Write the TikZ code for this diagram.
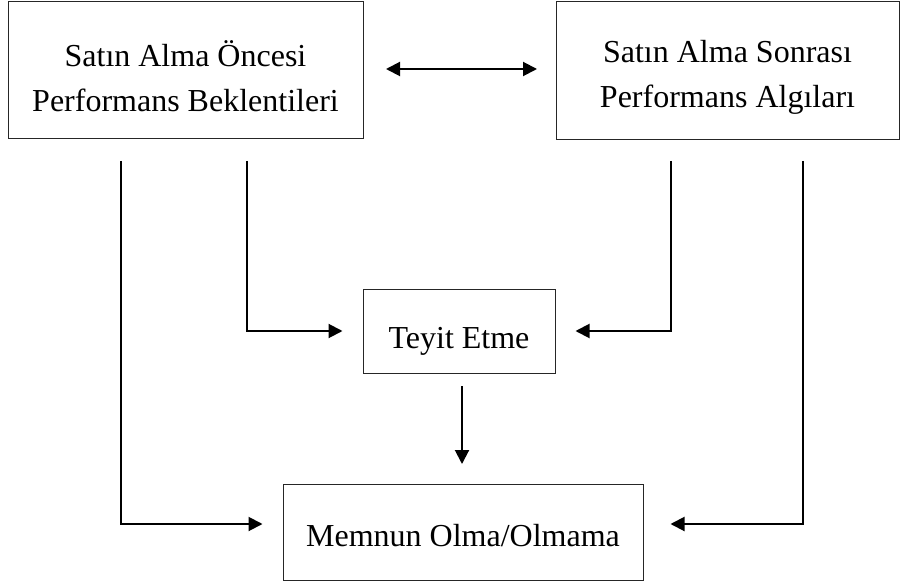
\documentclass[tikz,border=0pt]{standalone}
\usepackage{fontspec}
\setmainfont{Liberation Serif}
\usetikzlibrary{arrows.meta}
\begin{document}
\begin{tikzpicture}[x=1pt,y=-1pt,
  box/.style={draw=black!85,line width=1pt,inner sep=0pt},
  txt/.style={align=center,inner sep=0pt,font=\fontsize{32}{45}\selectfont},
  tip/.tip={Triangle[length=14pt,width=14pt]},
  link/.style={line width=2pt,-tip},
  both/.style={line width=2pt,tip-tip}]
\useasboundingbox (0,0) rectangle (901,585);

% boxes, with their texts set slightly below the centre
\node[box,minimum width=355pt,minimum height=137pt,
  label={[txt,yshift=-6pt]center:Satın Alma Öncesi\\Performans Beklentileri}]
  (pre) at (185.5,70.5) {};
\node[box,minimum width=343pt,minimum height=138pt,
  label={[txt,yshift=-6pt]center:Satın Alma Sonrası\\Performans Algıları}]
  (post) at (727.5,71) {};
\node[box,minimum width=192pt,minimum height=84pt,
  label={[txt,yshift=-10pt]center:Teyit Etme}]
  (conf) at (459,331) {};
\node[box,minimum width=360pt,minimum height=96pt,
  label={[txt,yshift=-4pt]center:Memnun Olma/Olmama}]
  (sat) at (463,532) {};

% free ends of the connectors
\coordinate (dA) at (386,69);
\coordinate (dB) at (537,69);
\coordinate (lo) at (121,161);
\coordinate (li) at (247,161);
\coordinate (ri) at (671,161);
\coordinate (ro) at (803,161);
\coordinate (mTop) at (462,386);
\coordinate (mBot) at (462,464);
\coordinate (cIn) at (0,331);
\coordinate (sIn) at (0,524);

% connectors
\draw[both] (dA) -- (dB);
\draw[link] (li) |- ([xshift=-20pt]conf.west |- cIn);
\draw[link] (ri) |- ([xshift=20pt]conf.east |- cIn);
\draw[link] (mTop) -- (mBot);
\draw[link] (lo) |- ([xshift=-20pt]sat.west |- sIn);
\draw[link] (ro) |- ([xshift=27pt]sat.east |- sIn);
\end{tikzpicture}
\end{document}
